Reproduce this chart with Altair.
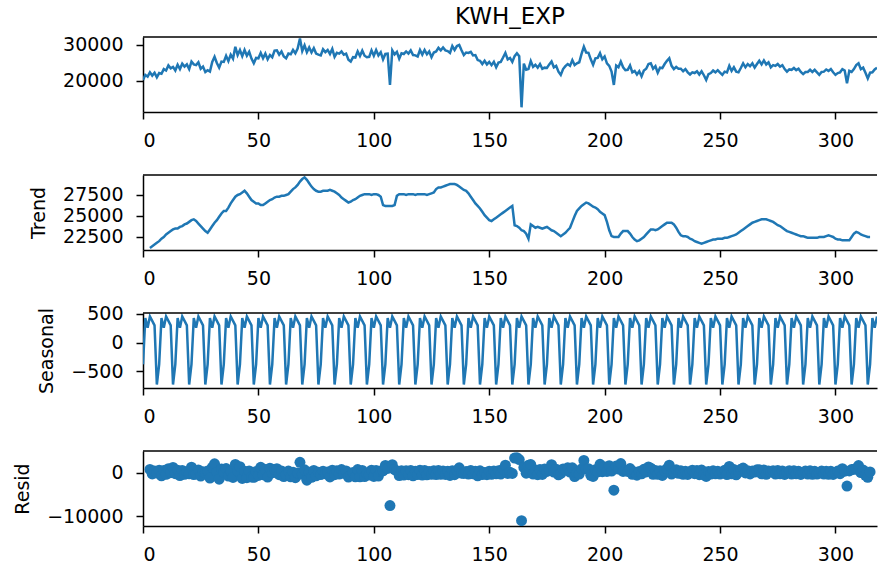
import altair as alt
import pandas as pd

# ---------------- data ----------------
DAYS = list(range(319))

OBSERVED = [
    20300, 21700, 21200, 22400, 21500, 22300, 21000, 22200, 22000, 23300,
    22900, 24300, 23500, 23900, 22900, 24500, 23300, 24800, 24000, 24600,
    23300, 25400, 24600, 24400, 25200, 23400, 24000, 22500, 23000, 22600,
    25300, 26700, 25000, 23700, 25400, 25300, 27000, 25500, 27300, 26200,
    29500, 27200, 28600, 26900, 28600, 27000, 28100, 26200, 24900, 26400,
    26300, 27800, 26300, 27600, 26000, 27200, 26600, 28400, 28500, 27300,
    28200, 26800, 26300, 27600, 27400, 28600, 27700, 29000, 31800, 28300,
    29900, 28000, 29300, 27900, 29100, 27600, 27300, 27100, 28800, 28000,
    28600, 27500, 28900, 26700, 27800, 27600, 28200, 27300, 27600, 25900,
    25400, 26600, 26500, 28200, 26900, 28400, 27000, 26600, 26700, 28500,
    27000, 28600, 27100, 28000, 26000, 27500, 27600, 18900, 28500, 27400,
    28100, 26200, 27700, 27500, 28200, 27600, 28500, 27200, 27100, 26800,
    28600, 27300, 28600, 27400, 28200, 26600, 27900, 28200, 29200, 28500,
    29300, 28500, 28300, 27800, 29700, 28600, 29700, 30000, 28500, 27200,
    27900, 27800, 28100, 27100, 27200, 25800, 25600, 24700, 25600, 24600,
    25300, 24400, 25300, 23800, 25100, 25300, 26500, 27800, 26000, 26400,
    25300, 26900, 27700, 26900, 12700, 24800, 23100, 23300, 25500, 23900,
    24500, 23700, 24700, 23400, 23700, 23600, 24600, 25400, 23800, 24200,
    22600, 21700, 23300, 24100, 24700, 24200, 25800, 24400, 24900, 25200,
    27500, 29500, 27900, 27800, 26000, 24500, 26300, 26400, 27700, 26000,
    26800, 24900, 24200, 22600, 18900, 24300, 23800, 25400, 23800, 23000,
    23100, 24300, 22400, 22800, 21800, 22700, 21300, 22900, 23400, 24700,
    24900, 23400, 24100, 22300, 23700, 23600, 24700, 25600, 26300, 24200,
    23300, 23900, 23400, 23400, 22700, 23300, 22400, 21800, 22400, 22200,
    22700, 21800, 22700, 21600, 20300, 21900, 22200, 22900, 22400, 23000,
    22300, 21700, 22600, 22400, 24200, 22800, 23800, 22600, 22400, 23600,
    24900, 23800, 24700, 24100, 24900, 23700, 24700, 25600, 24600, 25700,
    24600, 25200, 23800, 24400, 24200, 24700, 24000, 24400, 23300, 22600,
    23200, 23100, 23600, 23000, 23400, 22500, 21900, 22500, 22500, 23100,
    22500, 23100, 22400, 21700, 22500, 22600, 23200, 22800, 23300, 22400,
    21700, 22200, 22400, 23300, 22900, 19400, 22800, 22500, 23300, 24400,
    24900, 23300, 23700, 22300, 20700, 22300, 22400, 23200, 23700,
]

TREND_DAYS = list(range(3, 316))
TREND = [
    21200, 21400, 21600, 21800, 22000, 22300, 22500,
    22800, 23000, 23200, 23400, 23500, 23500, 23700, 23800, 24000, 24100,
    24300, 24500, 24600, 24400, 24100, 23800, 23500, 23200, 23000, 23400,
    23800, 24200, 24500, 24900, 25300, 25600, 25600, 26000, 26500, 26900,
    27300, 27500, 27600, 27800, 28000, 27700, 27300, 26900, 26700, 26500,
    26500, 26300, 26300, 26500, 26700, 26900, 27000, 27200, 27300, 27300,
    27400, 27400, 27500, 27600, 27900, 28200, 28400, 28700, 29100, 29400,
    29600, 29300, 28900, 28500, 28200, 28000, 27900, 27900, 28000, 28000,
    28000, 28100, 28000, 27900, 27700, 27500, 27200, 27000, 26800, 26600,
    26700, 26900, 27000, 27200, 27400, 27500, 27600, 27600, 27600, 27500,
    27600, 27600, 27500, 27300, 26300, 26200, 26200, 26200, 26200, 26300,
    27400, 27600, 27600, 27600, 27500, 27600, 27600, 27600, 27500, 27600,
    27600, 27600, 27600, 27500, 27600, 27700, 27800, 28200, 28400, 28400,
    28500, 28600, 28700, 28800, 28800, 28800, 28700, 28500, 28300, 28100,
    28000, 27700, 27300, 26900, 26500, 26200, 25900, 25500, 25100, 24800,
    24500, 24400, 24600, 24800, 25000, 25200, 25400, 25600, 25800, 26000,
    26200, 23900, 23800, 23600, 23300, 23200, 22900, 22300, 24000, 23800,
    23600, 23700, 23600, 23500, 23600, 23700, 23500, 23300, 23200, 23000,
    22800, 22600, 22800, 23000, 23300, 23600, 24300, 25000, 25600, 25900,
    26200, 26400, 26600, 26500, 26300, 26100, 26000, 25800, 25500, 25300,
    25100, 24300, 23300, 22600, 22500, 22500, 22500, 22900, 23200, 23200,
    23200, 22900, 22500, 22200, 22000, 22100, 22300, 22500, 22800, 23100,
    23400, 23400, 23300, 23400, 23600, 23800, 24000, 24200, 24200, 24200,
    24000, 23600, 23100, 22700, 22600, 22600, 22500, 22300, 22200, 22000,
    21900, 21800, 21700, 21800, 21900, 22000, 22100, 22200, 22200, 22300,
    22300, 22300, 22400, 22400, 22500, 22600, 22700, 22800, 23000, 23200,
    23400, 23600, 23800, 24000, 24200, 24300, 24400, 24500, 24600, 24600,
    24600, 24500, 24400, 24300, 24100, 23900, 23800, 23600, 23400, 23200,
    23100, 23000, 22900, 22800, 22700, 22600, 22600, 22500, 22400, 22400,
    22400, 22400, 22400, 22500, 22500, 22500, 22600, 22700, 22600, 22500,
    22300, 22200, 22200, 22100, 22100, 22100, 22100, 22500, 22900, 23100,
    23000, 22800, 22700, 22600, 22500, 22500,
]

# weekly seasonal component (period 7), value by day-of-period
SEASONAL_WEEK = [-380, 430, 260, 457, 380, 300, -733]

X_TICKS = [0, 50, 100, 150, 200, 250, 300]
OBS_TICKS = [20000, 30000]
TREND_TICKS = [22500, 25000, 27500]
SEAS_TICKS = [-500, 0, 500]
RESID_TICKS = [-10000, 0]

# ---------------- frames ----------------
obs_df = pd.DataFrame({"day": DAYS, "value": OBSERVED})
trend_df = pd.DataFrame({"day": TREND_DAYS, "value": TREND})
seas_df = pd.DataFrame({"day": DAYS, "value": [SEASONAL_WEEK[d % 7] for d in DAYS]})
resid_df = pd.DataFrame({
    "day": TREND_DAYS,
    "value": [OBSERVED[d] - TREND[i] - SEASONAL_WEEK[d % 7] for i, d in enumerate(TREND_DAYS)],
})

BLUE = "#1f77b4"
FONT = "DejaVu Sans"
W, H = 734, 75


def panel(df, kind, domain, ticks, ytitle=None, title=None):
    x = alt.X(
        "day:Q",
        scale=alt.Scale(domain=[0, 318], nice=False, zero=False),
        axis=alt.Axis(values=X_TICKS, title=None, grid=False, tickSize=7,
                      labelPadding=12, domain=True),
    )
    y = alt.Y("value:Q", scale=alt.Scale(domain=domain, nice=False, zero=False),
              axis=alt.Axis(values=ticks, format="d", grid=False, tickSize=7,
                            labelPadding=13, titlePadding=14, domain=True,
                            title=ytitle))
    if kind == "line":
        main = alt.Chart(df).mark_line(color=BLUE, strokeWidth=2.5, clip=True).encode(x=x, y=y)
    else:
        main = alt.Chart(df).mark_circle(color=BLUE, size=120, opacity=1, clip=True).encode(x=x, y=y)
    top = alt.Chart(pd.DataFrame({"a": [0]})).mark_rule(color="black", strokeWidth=1.5).encode(
        y=alt.value(0), x=alt.value(0), x2=alt.value(W)
    )
    props = dict(width=W, height=H)
    if title is not None:
        props["title"] = alt.TitleParams(title, fontSize=23, font=FONT, fontWeight="normal",
                                         anchor="middle", offset=7, color="black")
    return alt.layer(main, top).properties(**props)


p1 = panel(obs_df, "line", [11400, 32200], OBS_TICKS, title="KWH_EXP")
p2 = panel(trend_df, "line", [20950, 29880], TREND_TICKS, ytitle="Trend")
p3 = panel(seas_df, "line", [-793, 517], SEAS_TICKS, ytitle="Seasonal")
p4 = panel(resid_df, "point", [-12270, 5000], RESID_TICKS, ytitle="Resid")

chart = (
    alt.vconcat(p1, p2, p3, p4, spacing=63, bounds="flush")
    .properties(padding={"left": 13, "top": 5, "right": 0, "bottom": 0}, background="white")
    .configure_view(stroke=None)
    .configure_axis(
        labelFont=FONT, labelFontSize=19, labelColor="black",
        titleFont=FONT, titleFontSize=19, titleFontWeight="normal", titleColor="black",
        tickColor="black", tickWidth=1.5, domainColor="black", domainWidth=1.5,
    )
)

chart.save("out.html", embed_options={"renderer": "svg", "actions": False})
